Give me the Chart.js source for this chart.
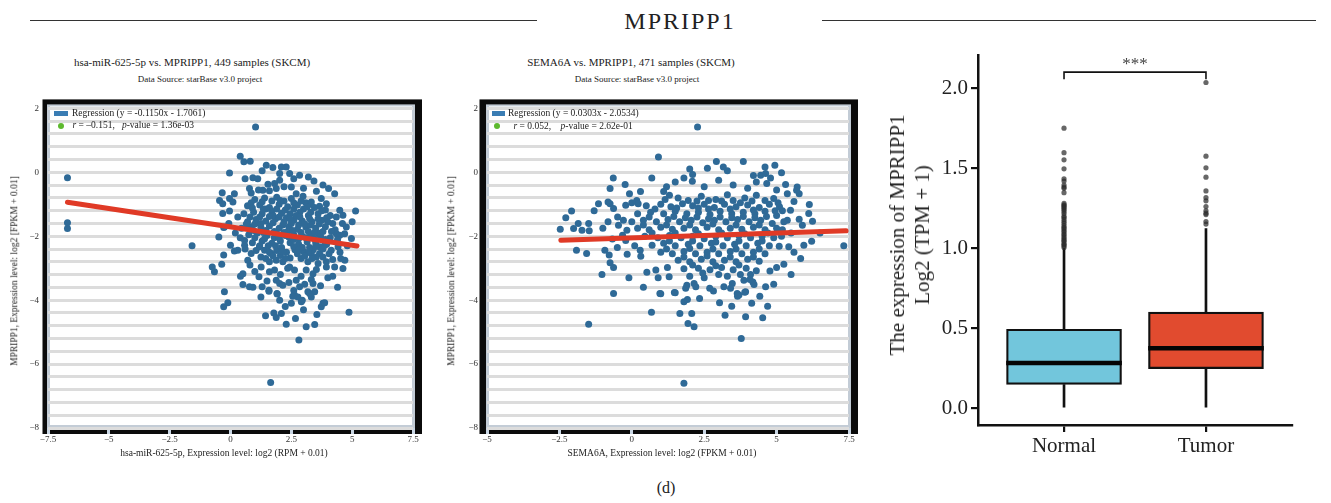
<!DOCTYPE html>
<html><head><meta charset="utf-8">
<script src="https://cdn.jsdelivr.net/npm/chart.js@4.4.1/dist/chart.umd.min.js"></script>
<style>
body{margin:0;background:#fff;}
#wrap{position:relative;width:1331px;height:503px;overflow:hidden;font-family:'Liberation Serif','DejaVu Serif',serif;color:#222;}
.abs{position:absolute;white-space:nowrap;line-height:1;}
.c{transform:translate(-50%,-50%);}
.ml{transform:translate(0,-50%);}
.rot{transform:translate(-50%,-50%) rotate(-90deg);}
canvas{position:absolute;}
.hl{position:absolute;height:1.3px;background:#333;}
</style></head><body><div id="wrap">
<div class="hl" style="left:30px;top:20px;width:507px"></div>
<div class="hl" style="left:822px;top:20px;width:494px"></div>
<div class="abs c" style="left:680px;top:21px;font-size:24px;letter-spacing:2px">MPRIPP1</div>

<div class="abs c" style="left:192px;top:62px;font-size:11px">hsa-miR-625-5p vs. MPRIPP1, 449 samples (SKCM)</div>
<div class="abs c" style="left:200px;top:79px;font-size:9px">Data Source: starBase v3.0 project</div>
<div class="abs c" style="left:631px;top:62px;font-size:11px">SEMA6A vs. MPRIPP1, 471 samples (SKCM)</div>
<div class="abs c" style="left:637px;top:79px;font-size:9px">Data Source: starBase v3.0 project</div>

<canvas id="p1" width="440" height="380" style="left:0;top:90px"></canvas>
<canvas id="p2" width="440" height="380" style="left:440px;top:90px"></canvas>
<canvas id="p3" width="451" height="420" style="left:880px;top:40px"></canvas>

<div class="abs" style="left:54px;top:111px;width:14px;height:5px;background:#3a7db4"></div>
<div class="abs ml" style="left:72px;top:114px;font-size:9.5px">Regression (y = -0.1150x - 1.7061)</div>
<div class="abs" style="left:58px;top:122.5px;width:6px;height:6px;border-radius:50%;background:#5db92e"></div>
<div class="abs ml" style="left:72.5px;top:126px;font-size:9.5px"><i>r</i> = &#8211;0.151,&nbsp;&nbsp; <i>p</i>-value = 1.36e-03</div>

<div class="abs" style="left:491.5px;top:111px;width:13.5px;height:5px;background:#3a7db4"></div>
<div class="abs ml" style="left:508px;top:114px;font-size:9.5px">Regression (y = 0.0303x - 2.0534)</div>
<div class="abs" style="left:494px;top:123px;width:6px;height:6px;border-radius:50%;background:#5db92e"></div>
<div class="abs ml" style="left:513.5px;top:126.5px;font-size:9.5px"><i>r</i> = 0.052,&nbsp;&nbsp;&nbsp; <i>p</i>-value = 2.62e-01</div>

<div class="abs rot" style="left:15px;top:271px;font-size:9.5px">MPRIPP1, Expression level: log2 [FPKM + 0.01]</div>
<div class="abs rot" style="left:452px;top:271px;font-size:9.5px">MPRIPP1, Expression level: log2 [FPKM + 0.01]</div>
<div class="abs c" style="left:224px;top:454px;font-size:9.5px">hsa-miR-625-5p, Expression level: log2 (RPM + 0.01)</div>
<div class="abs c" style="left:662px;top:454px;font-size:9.5px">SEMA6A, Expression level: log2 (FPKM + 0.01)</div>

<div class="abs rot" style="left:910px;top:235px;font-size:21px;text-align:center;line-height:25px">The expression of MPRIPP1<br>Log2 (TPM + 1)</div>
<div class="abs c" style="left:1135px;top:63px;font-size:17px;color:#444">***</div>

<div class="abs c" style="left:666px;top:488px;font-size:16px">(d)</div>
</div>
<script>
// ---------- data ----------
const scatterYTicks = [2, 0, -2, -4, -6, -8];
const p1XTicks = [-7.5, -5, -2.5, 0, 2.5, 5, 7.5];
const p2XTicks = [-5, -2.5, 0, 2.5, 5, 7.5];

const p1Regression = [[-6.7, -0.935], [5.2, -2.304]];
const p2Regression = [[-2.45, -2.128], [7.4, -1.829]];

const p1Points = [
[-6.7,-0.17],[-6.7,-1.58],[-6.7,-1.76],[-1.58,-2.3],[1.03,1.42],
[0.40,0.50],[0.55,0.33],[0.81,0.35],[-0.04,-0.02],[1.47,0.22],[1.74,0.15],[2.09,0.17],[2.29,0.17],[2.02,-0.04],[2.43,-0.04],[2.84,-0.09],
[0.92,-0.17],[1.12,-0.2],[2.02,-0.25],[3.43,-0.27],[1.54,-0.37],[1.81,-0.35],[2.5,-0.46],
[0.78,-0.51],[0.85,-0.65],[1.33,-0.56],[1.6,-0.58],[1.88,-0.51],[-0.34,-0.64],[0.16,-0.67],[3.53,-0.59],[2.7,-0.67],[2.98,-0.75],[4.03,-0.51],[4.28,-0.67],
[-0.45,-0.88],[-0.32,-0.98],[-0.04,-0.82],[0.1,-0.93],[3.73,-0.82],[3.94,-0.98],[3.32,-0.93],[3.66,-1.06],
[-0.32,-1.29],[-0.04,-1.21],[4.49,-1.19],[4.62,-1.34],[5.14,-1.21],[4.35,-1.4],[-0.25,-1.71],
[-0.48,-2.02],[-0.28,-1.73],[-0.07,-1.6],[0,-2.28],[-0.28,-2.59],[-0.36,-2.88],[-0.75,-2.96],[-0.66,-3.11],[0.16,-2.46],[0.3,-2.44],[0.58,-2.13],[0.58,-2.28],[0.85,-2.54],[0.71,-2.75],[0.51,-3.17],[0.41,-3.25],[0.51,-3.51],[0.78,-3.58],[0.92,-3.6],[-0.25,-3.74],[-0.11,-4.08],[-0.28,-4.21],
[1.26,-2.96],[1.17,-3.27],[1.3,-3.58],[1.58,-3.69],[1.6,-3.11],[1.81,-3.06],[1.88,-3.38],[2.02,-3.48],[2.15,-3.53],[1.91,-3.79],[2.02,-4],
[1.44,-4.49],[1.78,-4.4],[1.88,-4.54],[2.09,-4.42],[2.29,-4.75],[2.67,-4.57],[2.81,-5.25],[3.11,-4.83],[3.46,-4.76],
[2.63,-3.84],[2.77,-3.9],[2.95,-4],[2.91,-4.05],[3.18,-3.74],[3.46,-3.74],[3.32,-3.9],[3.8,-4.1],[3.73,-4.21],[4.87,-4.38],
[2.7,-3.38],[2.84,-3.58],[3.32,-3.35],[3.39,-3.48],[3.39,-3.17],[3.11,-3.06],[2.43,-2.96],[2.63,-3.06],[3.53,-3.04],[3.94,-2.96],[4.28,-2.96],[4.62,-3.01],[3.94,-2.8],[4.2,-2.73],[4.53,-2.7],[4.14,-2.44],[4.42,-2.33],[4.97,-2.07],[4.76,-1.71],[4.69,-1.92],[4.35,-1.92],[4.49,-1.97],[3.66,-2.33],[3.87,-2.28],[3.66,-2.54],[3.32,-2.54],[3.53,-2.65],[3.18,-2.8],[1.6,-2.8],[1.88,-2.75],[2.15,-2.8],[1.19,-2.33],[1.4,-2.44],[1.67,-2.54],
[1.65,-6.58],[1.58,-3.72],[2.56,-3.88],[3.25,-3.79],[3.87,-4.08],[1.92,-3.81],
[1.0,-0.85],[1.4,-0.8],[1.9,-0.78],[2.2,-0.9],[2.5,-0.82],[3.1,-0.95],
[0.7,-1.05],[1.2,-1.02],[1.6,-1.1],[2.0,-1.0],[2.35,-1.08],[2.75,-1.02],[3.0,-1.15],[3.45,-1.1],[3.9,-1.18],
[0.55,-1.3],[0.95,-1.25],[1.3,-1.3],[1.7,-1.22],[2.1,-1.28],[2.45,-1.3],[2.85,-1.25],[3.2,-1.35],[3.6,-1.3],[4.1,-1.35],
[0.7,-1.55],[1.05,-1.48],[1.45,-1.52],[1.85,-1.45],[2.2,-1.55],[2.6,-1.5],[2.95,-1.52],[3.35,-1.55],[3.75,-1.5],[4.2,-1.6],
[0.45,-1.75],[0.85,-1.7],[1.25,-1.72],[1.6,-1.68],[2.0,-1.75],[2.4,-1.7],[2.75,-1.78],[3.1,-1.72],[3.5,-1.75],[3.9,-1.7],
[0.75,-1.95],[1.1,-1.9],[1.5,-1.98],[1.9,-1.92],[2.25,-1.98],[2.6,-1.95],[2.95,-2.0],[3.3,-1.95],[3.7,-2.0],[4.1,-2.05],
[0.9,-2.2],[1.3,-2.15],[1.7,-2.22],[2.05,-2.15],[2.45,-2.2],[2.8,-2.25],[3.15,-2.18],[3.5,-2.2],[3.95,-2.25],
[1.05,-2.45],[1.9,-2.45],[2.3,-2.5],[2.65,-2.42],[3.0,-2.48],[3.4,-2.42],[4.05,-2.55],
[1.25,-2.65],[2.45,-2.68],[2.9,-2.7],[3.8,-2.65],[4.5,-2.5],
[0.3,-1.4],[0.2,-1.9],[0.4,-2.05],[4.6,-1.6],[4.8,-2.3],[5.0,-1.55],[1.15,-0.55],[2.2,-0.45],[3.0,-0.5],[3.8,-0.4],[2.6,-0.2],[1.3,0.05],[0.6,-0.2],[3.2,-0.15],
[1.45,-1.15],[1.75,-1.35],[2.3,-1.42],[2.7,-1.35],[3.05,-1.62],[2.35,-1.85],[2.9,-1.88],[1.35,-1.88],[1.8,-2.05],[2.6,-2.1],[3.25,-2.35],[2.1,-2.35],[1.55,-2.3],[3.6,-1.9],[3.3,-1.25],[1.0,-1.62],[0.6,-2.4],[4.4,-2.1],[4.3,-1.8],[2.05,-2.6],[2.75,-2.55],[1.45,-2.7],[3.6,-2.85],[2.35,-3.0],[2.05,-3.2],[2.9,-3.25],[3.05,-3.5],[2.4,-3.45],[1.25,-3.9],[3.7,-3.55],[4.0,-3.3],[4.4,-3.6],[4.2,-3.25],[4.7,-2.75],[1.0,-3.1],[0.8,-2.9],[1.5,-3.4],[2.6,-3.7],[2.25,-4.2],[3.55,-4.45],[2.5,-4.1],[3.0,-4.3],
[0.85,-0.95],[1.3,-0.92],[1.7,-0.9],[2.05,-0.88],[2.6,-0.95],[2.9,-0.9],[3.3,-1.0],
[0.9,-1.12],[1.35,-1.15],[1.9,-1.15],[2.25,-1.18],[2.6,-1.15],[3.15,-1.08],[3.75,-1.2],
[0.8,-1.4],[1.2,-1.4],[1.6,-1.38],[2.0,-1.4],[2.45,-1.45],[2.85,-1.4],[3.25,-1.45],[3.6,-1.45],[3.95,-1.42],
[0.65,-1.62],[1.25,-1.6],[1.75,-1.58],[2.15,-1.65],[2.5,-1.6],[2.8,-1.65],[3.3,-1.65],[3.65,-1.62],[4.0,-1.55],
[0.95,-1.82],[1.45,-1.82],[1.8,-1.85],[2.2,-1.88],[2.55,-1.82],[3.2,-1.85],[3.45,-1.88],[3.8,-1.85],[4.15,-1.85],
[1.0,-2.05],[1.4,-2.08],[2.0,-2.05],[2.4,-2.02],[2.8,-2.08],[3.1,-2.05],[3.45,-2.08],[3.9,-2.1],
[1.2,-2.3],[1.85,-2.3],[2.6,-2.32],[2.95,-2.35],[3.5,-2.32],[3.8,-2.4],
[1.6,-2.5],[2.15,-2.48],[2.8,-2.42],[3.2,-2.5],[1.75,-2.62],[2.25,-2.7],[3.05,-2.62],[3.35,-2.7]
];

const p2Points = [
[0.92,0.48],[2.27,1.42],[2.92,0.34],[3.16,0.17],[3.85,0.34],[2.61,0.13],[4.6,0.17],[4.94,0.22],[5.17,-0.01],[4.45,-0.09],[4.62,-0.04],[4.79,-0.18],[4.66,-0.35],
[2.1,-0.07],[1.8,-0.18],[2.09,-0.28],[0.69,-0.18],[-0.64,-0.18],[-0.75,-0.51],[-0.23,-0.38],[-0.08,-0.67],
[-1.15,-0.98],[-0.82,-0.93],[-0.75,-0.98],[-0.63,-1.13],[-0.21,-1.03],[0.17,-0.88],[0.22,-0.98],
[-2.08,-1.21],[-2.28,-1.42],[-1.85,-1.6],[-2.01,-1.76],[-2.47,-1.78],[-1.72,-1.81],[-1.49,-1.6],[-1.47,-1.83],
[-0.82,-1.55],[-0.49,-1.4],[-0.29,-1.5],[-0.46,-1.66],
[-1.91,-2.44],[-1.56,-2.54],[-0.93,-2.44],[-0.78,-2.59],[-0.75,-2.83],[-0.63,-2.98],[-1.03,-3.2],[-0.63,-3.79],[-1.49,-4.75],[-0.16,-2.56],[0.29,-2.44],[0.31,-2.63],
[-0.67,-2.09],[-0.32,-1.97],[-0.21,-2.13],[-0.17,-1.81],
[0.52,-3.13],[0.83,-3.06],[0.91,-3.3],[1.23,-2.98],[1.29,-3.27],
[0.97,-3.79],[1.47,-3.76],[0.68,-4.38],[1.66,-4.42],[2.07,-4.42],[1.94,-4.73],[2.15,-4.83],[1.8,-4.05],[1.92,-3.98],[2.34,-3.95],
[3.03,-4.08],[3.45,-4.19],[3.22,-4.47],[3.93,-4.52],[4.14,-4.1],[4.42,-3.88],[4.69,-4.19],[4.52,-4.55],[3.78,-5.2],
[1.9,-3.53],[1.86,-3.63],[2.15,-3.48],[2.21,-3.58],[2.69,-3.63],[2.82,-3.71],[3.18,-3.58],[3.47,-3.48],[3.41,-3.63],[3.7,-3.84],[3.64,-3.79],[3.93,-3.74],[4.18,-3.43],[4.22,-3.51],[4.62,-3.58],[3.87,-3.38],[4.08,-3.35],
[5.83,-2.7],[6.21,-2.16],[5.94,-2.28],[5.25,-2.88],[5.0,-2.98],[4.77,-3.09],[7.32,-2.3],
[6.13,-1.01],[6.11,-1.29],[6.24,-1.53],[5.78,-1.47],[5.89,-1.66],[5.71,-0.46],[5.78,-0.67],[5.69,-0.56],[5.37,-0.67],[5.6,-0.91],[5.48,-1.19],[5.31,-0.38],[5.37,-1.5],
[5.17,-2.0],[5.09,-2.31],[5.42,-2.33],
[1.8,-6.6],[1.0,-3.8],[1.5,-3.77],[3.65,-3.88],[3.9,-3.75],
[1.3,-0.72],[1.6,-0.8],[2.4,-0.75],[2.9,-0.85],[3.3,-0.7],[3.9,-0.8],[4.3,-0.72],[4.9,-0.82],
[0.5,-1.05],[1.0,-1.0],[1.35,-1.08],[1.75,-0.98],[2.1,-1.05],[2.5,-1.0],[2.85,-1.1],[3.2,-1.0],[3.6,-1.08],[4.0,-1.02],[4.4,-1.1],[4.75,-1.0],[5.1,-1.08],
[0.2,-1.3],[0.65,-1.25],[1.1,-1.3],[1.5,-1.22],[1.9,-1.3],[2.3,-1.25],[2.7,-1.32],[3.05,-1.22],[3.45,-1.3],[3.85,-1.25],[4.25,-1.3],[4.6,-1.22],[5.0,-1.35],
[0.0,-1.55],[0.4,-1.5],[0.85,-1.55],[1.25,-1.48],[1.65,-1.55],[2.05,-1.5],[2.45,-1.58],[2.85,-1.5],[3.25,-1.55],[3.65,-1.48],[4.05,-1.55],[4.45,-1.5],[4.85,-1.6],[5.25,-1.55],
[0.2,-1.75],[0.6,-1.8],[1.0,-1.72],[1.4,-1.78],[1.8,-1.75],[2.2,-1.8],[2.6,-1.72],[3.0,-1.8],[3.4,-1.75],[3.8,-1.78],[4.2,-1.72],[4.6,-1.8],[5.0,-1.75],
[0.45,-2.0],[0.9,-2.05],[1.3,-1.98],[1.7,-2.05],[2.1,-2.0],[2.5,-2.08],[2.9,-2.0],[3.3,-2.05],[3.7,-1.98],[4.1,-2.05],[4.5,-2.0],[4.9,-2.05],
[0.7,-2.28],[1.1,-2.22],[1.5,-2.3],[1.95,-2.25],[2.35,-2.3],[2.75,-2.22],[3.15,-2.3],[3.55,-2.25],[3.95,-2.3],[4.35,-2.22],[4.75,-2.3],
[1.0,-2.5],[1.4,-2.55],[1.8,-2.48],[2.2,-2.55],[2.6,-2.5],[3.0,-2.55],[3.4,-2.48],[3.8,-2.55],[4.2,-2.5],[4.6,-2.55],
[1.6,-2.75],[2.0,-2.8],[2.4,-2.72],[2.8,-2.8],[3.2,-2.75],[3.6,-2.8],[4.0,-2.72],[4.4,-2.78],
[1.8,-3.02],[2.3,-3.0],[2.7,-3.05],[3.1,-2.98],[3.5,-3.05],[3.95,-3.0],[4.3,-3.08],
[2.0,-3.25],[2.5,-3.3],[3.3,-3.25],[3.75,-3.2],
[1.2,-0.45],[1.5,-0.3],[2.5,-0.45],[3.0,-0.25],[3.5,-0.4],[4.0,-0.5],[4.3,-0.3],[3.3,0.05],[2.0,0.1],[1.1,-0.6],[0.3,-0.6],[5.0,-0.55],
[-1.3,-1.2],[-1.0,-1.75],[-0.5,-2.35],[0.1,-2.3],[0.0,-0.95],[-0.1,-3.3],[0.4,-3.6],[5.5,-1.9],[5.6,-2.5],[6.5,-1.9],[5.5,-3.2],[4.9,-3.5],[5.2,-1.2],[4.2,-0.1],
[1.15,-0.85],[1.95,-0.88],[2.25,-0.9],[2.65,-0.88],[3.1,-0.9],[3.5,-0.88],[3.75,-0.95],[4.15,-0.9],[4.6,-0.88],[5.05,-0.95],
[0.8,-1.15],[1.55,-1.12],[2.3,-1.12],[2.65,-1.15],[3.4,-1.15],[4.2,-1.18],[4.95,-1.2],
[0.6,-1.4],[1.45,-1.38],[1.85,-1.42],[2.25,-1.4],[2.65,-1.45],[3.05,-1.4],[3.45,-1.42],[3.85,-1.38],[4.25,-1.42],[4.65,-1.38],
[0.4,-1.65],[1.2,-1.65],[2.0,-1.65],[2.8,-1.62],[3.6,-1.65],[4.4,-1.65],[5.2,-1.8],
[0.7,-1.9],[1.5,-1.9],[2.3,-1.92],[3.1,-1.9],[3.9,-1.92],[4.7,-1.9],
[1.3,-2.15],[2.1,-2.15],[2.9,-2.18],[3.7,-2.15],[4.5,-2.15],
[1.2,-2.4],[2.0,-2.38],[2.8,-2.4],[3.6,-2.4],[4.4,-2.4],
[1.8,-2.65],[2.6,-2.62],[3.4,-2.65],[4.2,-2.65],
[2.1,-2.9],[2.9,-2.92],[3.7,-2.9],[2.45,-3.15],[3.0,-3.2],[4.1,-3.2]
];

const boxCategories = ['Normal', 'Tumor'];
const boxYTicks = [0, 0.5, 1.0, 1.5, 2.0];
const boxQ1 = [0.149, 0.248];
const boxMedian = [0.283, 0.376];
const boxQ3 = [0.494, 0.601];
const whiskerLow = [0, 0];
const whiskerHigh = [1.0, 1.122];
const normalOutliers = [1.75,1.597,1.552,1.496,1.434,1.42,1.395,1.382,1.374,1.347,1.28,1.271,1.265,1.258,1.25,1.24,1.23,1.217,1.2,1.192,1.18,1.167,1.155,1.141,1.13,1.122,1.11,1.101,1.09,1.081,1.07,1.06,1.05,1.043,1.03,1.023,1.015,1.005];
const tumorOutliers = [2.035,1.575,1.502,1.444,1.358,1.316,1.296,1.26,1.234,1.219,1.21,1.167,1.151];
const sigBracket = [[1, 2.056], [1, 2.1], [2, 2.1], [2, 2.056]];

// ---------- rendering ----------
const FONT = "'Liberation Serif','DejaVu Serif',serif";
const fmt = v => (v < 0 ? '\u2212' : '') + Math.abs(v);

function framePlugin(leftOff) {
  return { id: 'frame', beforeDraw(chart) {
    const { ctx, chartArea: a } = chart;
    ctx.save();
    ctx.fillStyle = '#0b0b0b';
    ctx.fillRect(a.left - leftOff, a.top - 5, a.right - a.left + leftOff + 9, a.bottom - a.top + 11);
    ctx.fillStyle = '#c3ccd6';
    ctx.fillRect(a.left - 1, a.top, a.right - a.left + 3, a.bottom - a.top);
    ctx.fillStyle = '#ffffff';
    ctx.fillRect(a.left + 2, a.top + 2, a.right - a.left - 3, a.bottom - a.top - 5);
    ctx.restore();
  }};
}

function scatterChart(id, points, reg, xTicks, yWidth, padRight, leftOff) {
  const gridVals = [];
  for (let k = 0; k <= 25; k++) gridVals.push(Math.round((-8 + 0.4 * k) * 10) / 10);
  new Chart(document.getElementById(id), {
    type: 'scatter',
    data: { datasets: [
      { type: 'line', data: reg.map(p => ({ x: p[0], y: p[1] })), borderColor: '#e03a26', borderWidth: 5, pointRadius: 0, borderCapStyle: 'round', fill: false },
      { data: points.map(p => ({ x: p[0], y: p[1] })), backgroundColor: '#2f6a97', borderWidth: 0, pointRadius: 3.5, pointHoverRadius: 3.5 }
    ]},
    options: {
      responsive: false, animation: false, events: [],
      plugins: { legend: { display: false }, tooltip: { enabled: false } },
      layout: { padding: { left: 0, right: padRight, top: 14, bottom: 0 } },
      scales: {
        x: { type: 'linear', min: xTicks[0], max: xTicks[xTicks.length - 1],
          afterFit: s => { s.height = 42; },
          afterBuildTicks: s => { s.ticks = xTicks.map(v => ({ value: v })); },
          grid: { drawOnChartArea: false, drawTicks: true, tickLength: 6, color: '#c9d6e4', lineWidth: 3 },
          border: { display: false },
          ticks: { padding: 0, color: '#333', font: { family: FONT, size: 9 }, callback: v => fmt(v), maxRotation: 0, autoSkip: false } },
        y: { type: 'linear', min: -8, max: 2.125,
          afterFit: s => { s.width = yWidth; },
          afterBuildTicks: s => { s.ticks = gridVals.map(v => ({ value: v })); },
          grid: { color: '#dcdcdc', lineWidth: 3, drawTicks: false },
          border: { display: false },
          ticks: { padding: 9, color: '#333', autoSkip: false, font: { family: FONT, size: 9 },
            callback: v => scatterYTicks.includes(Math.round(v * 10) / 10) ? fmt(Math.round(v)) : '' } }
      }
    },
    plugins: [framePlugin(leftOff)]
  });
}

scatterChart('p1', p1Points, p1Regression, p1XTicks, 48, 27, 5.5);
scatterChart('p2', p2Points, p2Regression, p2XTicks, 47, 31, 7.5);

// boxplot
const boxColors = ['#72c6dc', '#e14b2f'];
const outlierData = normalOutliers.map(v => ({ x: 1, y: v })).concat(tumorOutliers.map(v => ({ x: 2, y: v })));
new Chart(document.getElementById('p3'), {
  type: 'bar',
  data: { datasets: [
    { type: 'scatter', data: outlierData, backgroundColor: 'rgba(45,45,45,0.72)', borderWidth: 0, pointRadius: 2.6, pointHoverRadius: 2.6 },
    { type: 'line', data: sigBracket.map(p => ({ x: p[0], y: p[1] })), borderColor: '#111', borderWidth: 1.6, pointRadius: 0, fill: false },
    { data: boxCategories.map((c, i) => ({ x: i + 1, y: [boxMedian[i] - 0.012, boxMedian[i] + 0.012] })), backgroundColor: '#050505', barThickness: 115, grouped: false },
    { data: boxCategories.map((c, i) => ({ x: i + 1, y: [boxQ1[i], boxQ3[i]] })), backgroundColor: boxColors, borderColor: '#111', borderWidth: 2.2, borderSkipped: false, barThickness: 115, grouped: false },
    { data: boxCategories.map((c, i) => ({ x: i + 1, y: [whiskerLow[i], boxQ1[i]] })), backgroundColor: '#111', barThickness: 2, grouped: false },
    { data: boxCategories.map((c, i) => ({ x: i + 1, y: [boxQ3[i], whiskerHigh[i]] })), backgroundColor: '#111', barThickness: 2, grouped: false }
  ]},
  options: {
    responsive: false, animation: false, events: [],
    plugins: { legend: { display: false }, tooltip: { enabled: false } },
    layout: { padding: { left: 0, right: 39, top: 13, bottom: 0 } },
    scales: {
      x: { type: 'linear', min: 0.394, max: 2.606, offset: false,
        afterFit: s => { s.height = 35; },
        afterBuildTicks: s => { s.ticks = boxCategories.map((c, i) => ({ value: i + 1 })); },
        grid: { offset: false, drawOnChartArea: false, drawTicks: true, tickLength: 7, color: '#111', lineWidth: 2.2 },
        border: { display: true, color: '#111', width: 2.5 },
        ticks: { padding: 2, color: '#222', font: { family: FONT, size: 21 }, autoSkip: false, maxRotation: 0,
          callback: v => boxCategories[Math.round(v) - 1] } },
      y: { type: 'linear', min: -0.104, max: 2.203, beginAtZero: false,
        afterFit: s => { s.width = 98; },
        afterBuildTicks: s => { s.ticks = boxYTicks.map(v => ({ value: v })); },
        grid: { drawOnChartArea: false, drawTicks: true, tickLength: 7, color: '#111', lineWidth: 2.2 },
        border: { display: true, color: '#111', width: 2.5 },
        ticks: { padding: 3, color: '#222', font: { family: FONT, size: 21 }, autoSkip: false, callback: v => v.toFixed(1) } }
    }
  }
});
</script>
</body></html>
